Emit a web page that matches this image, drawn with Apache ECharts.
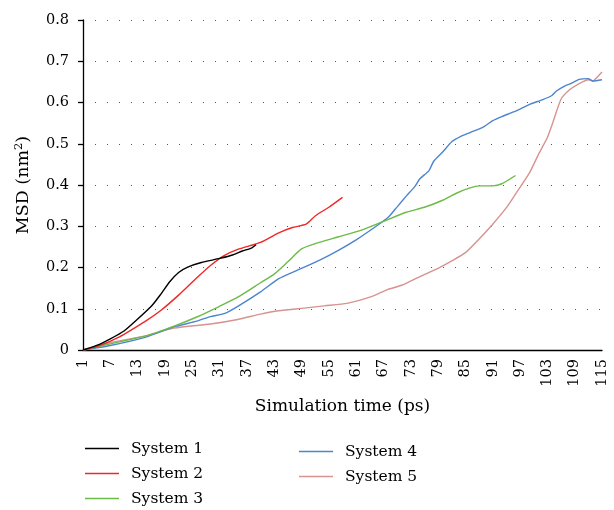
<!DOCTYPE html>
<html>
<head>
<meta charset="utf-8">
<script src="https://cdn.jsdelivr.net/npm/echarts@6/dist/echarts.min.js"></script>
<style>
  html, body { margin: 0; padding: 0; background: #ffffff; }
  #chart { width: 614px; height: 510px; }
</style>
</head>
<body>
<div id="chart"></div>
<script>
// Mean square displacement of five systems over simulation time (ps)
const timeTicks = [1, 7, 13, 19, 25, 31, 37, 43, 49, 55, 61, 67, 73, 79, 85, 91, 97, 103, 109, 115];
const msdTicks = [0, 0.1, 0.2, 0.3, 0.4, 0.5, 0.6, 0.7, 0.8];

const seriesNames = ['System 1', 'System 2', 'System 3', 'System 4', 'System 5'];
const seriesColors = ['#000000', '#f02828', '#6cbb47', '#4d84cf', '#d6938f'];

const s1Time = [1, 4, 7, 10, 13, 16, 18, 20, 22, 24, 27, 31, 34, 36, 38, 39];
const s1Msd  = [0, 0.011, 0.027, 0.046, 0.075, 0.106, 0.134, 0.165, 0.188, 0.201, 0.212, 0.222, 0.231, 0.240, 0.247, 0.255];

const s2Time = [1, 4, 9, 15, 18, 22, 26, 29, 32, 35, 40, 44, 47, 50, 52, 55, 58];
const s2Msd  = [0, 0.008, 0.032, 0.072, 0.095, 0.133, 0.175, 0.205, 0.229, 0.244, 0.261, 0.284, 0.297, 0.305, 0.325, 0.346, 0.370];

const s3Time = [1, 7, 15, 21, 26, 31, 35, 40, 43, 46, 49, 52, 57, 62, 67, 72, 76, 80, 83, 86, 88, 91, 93, 96];
const s3Msd  = [0, 0.015, 0.035, 0.058, 0.080, 0.106, 0.128, 0.163, 0.184, 0.214, 0.245, 0.258, 0.274, 0.290, 0.312, 0.334, 0.346, 0.363, 0.380, 0.393, 0.398, 0.398, 0.403, 0.423];

const s4Time = [1, 7, 15, 21, 26, 29, 32, 35, 40, 44, 48, 53, 57, 61, 65, 68, 70, 72, 74, 75, 77, 78, 80, 82, 84, 86, 89, 91, 93, 96, 99, 102, 104, 105, 107, 108, 110, 112, 113, 115];
const s4Msd  = [0, 0.011, 0.032, 0.056, 0.070, 0.081, 0.088, 0.106, 0.141, 0.173, 0.193, 0.218, 0.241, 0.267, 0.297, 0.321, 0.347, 0.373, 0.398, 0.415, 0.435, 0.457, 0.480, 0.505, 0.518, 0.527, 0.541, 0.556, 0.566, 0.579, 0.595, 0.607, 0.617, 0.628, 0.641, 0.645, 0.656, 0.658, 0.652, 0.655];

const s5Time = [1, 7, 15, 21, 29, 35, 40, 44, 50, 54, 59, 64, 68, 71, 75, 79, 82, 85, 88, 91, 94, 96, 99, 101, 103, 104, 106, 108, 110, 112, 113, 114, 115];
const s5Msd  = [0, 0.018, 0.035, 0.053, 0.063, 0.074, 0.087, 0.095, 0.102, 0.107, 0.113, 0.128, 0.147, 0.157, 0.178, 0.198, 0.216, 0.236, 0.269, 0.305, 0.345, 0.378, 0.428, 0.473, 0.515, 0.545, 0.608, 0.632, 0.646, 0.655, 0.652, 0.662, 0.674];

const allTimes = [s1Time, s2Time, s3Time, s4Time, s5Time];
const allMsd = [s1Msd, s2Msd, s3Msd, s4Msd, s5Msd];

const FONT = 'DejaVu Serif';

const series = seriesNames.map((name, k) => ({
  name: name,
  type: 'line',
  smooth: 0.2,
  showSymbol: false,
  symbol: 'none',
  color: seriesColors[k],
  lineStyle: { width: 1.4, color: seriesColors[k] },
  data: allTimes[k].map((t, i) => [t, allMsd[k][i]]),
  z: 10 - k
}));

const legendBase = {
  orient: 'vertical',
  icon: 'rect',
  padding: 0,
  itemWidth: 34,
  itemHeight: 1.6,
  itemGap: 8,
  textStyle: {
    fontFamily: FONT,
    fontSize: 15.5,
    color: '#000',
    lineHeight: 17,
    padding: [0, 0, 0, 7]
  }
};

const chart = echarts.init(document.getElementById('chart'), null, { renderer: 'canvas' });
chart.setOption({
  animation: false,
  backgroundColor: '#ffffff',
  grid: { left: 83, right: 12, top: 20, bottom: 160, containLabel: false },
  legend: [
    Object.assign({}, legendBase, { left: 85, top: 440, height: 70, data: seriesNames.slice(0, 3) }),
    Object.assign({}, legendBase, { left: 299, top: 443, height: 60, data: seriesNames.slice(3) })
  ],
  xAxis: {
    type: 'value',
    min: 1,
    max: 115,
    name: 'Simulation time (ps)',
    nameLocation: 'middle',
    nameGap: 48,
    nameTextStyle: { fontFamily: FONT, fontSize: 17, color: '#000' },
    axisLine: { show: true, onZero: false, lineStyle: { color: '#000', width: 1.3 } },
    axisTick: { show: false, customValues: timeTicks },
    splitLine: { show: false },
    axisLabel: {
      customValues: timeTicks,
      rotate: 90,
      margin: 9,
      fontFamily: FONT,
      fontSize: 14.5,
      color: '#000'
    }
  },
  yAxis: {
    type: 'value',
    min: msdTicks[0],
    max: msdTicks[msdTicks.length - 1],
    interval: 0.1,
    name: '{a|MSD (nm}{b|2}{a|)}',
    nameLocation: 'middle',
    nameGap: 50,
    nameTextStyle: {
      fontFamily: FONT,
      color: '#000',
      rich: {
        a: { fontFamily: FONT, fontSize: 17.5, color: '#000' },
        b: { fontFamily: FONT, fontSize: 11.5, color: '#000', padding: [0, 0, 8, 0] }
      }
    },
    axisLine: { show: true, lineStyle: { color: '#000', width: 1.3 } },
    axisTick: { show: true, length: 5, lineStyle: { color: '#000', width: 1.3 } },
    splitLine: { show: true, lineStyle: { color: '#555', width: 1, type: [1, 11] } },
    axisLabel: {
      margin: 14,
      fontFamily: FONT,
      fontSize: 14.5,
      color: '#000',
      formatter: v => String(Math.round(v * 10) / 10)
    }
  },
  series: series
});
</script>
</body>
</html>
